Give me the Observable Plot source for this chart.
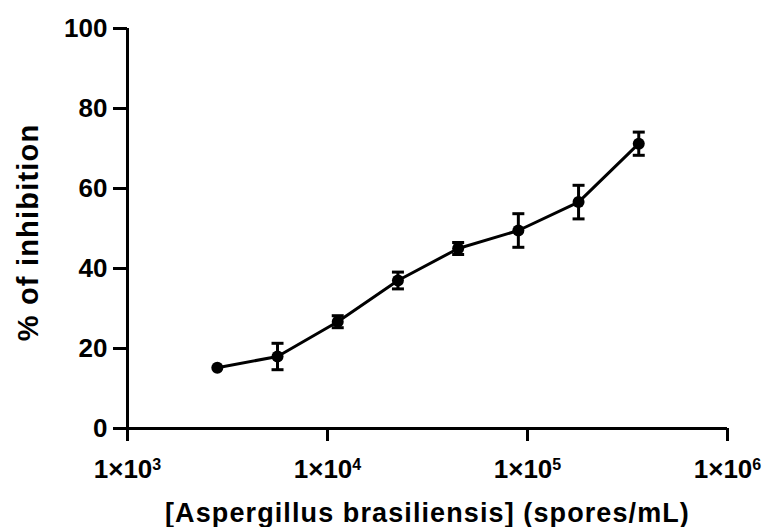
<!DOCTYPE html>
<html>
<head>
<meta charset="utf-8">
<script src="https://cdn.jsdelivr.net/npm/d3@7"></script>
<script src="https://cdn.jsdelivr.net/npm/@observablehq/plot@0.6"></script>
<style>
  html, body { margin: 0; padding: 0; background: #fff; }
  svg { font-family: "Liberation Sans", Arial, sans-serif; }
</style>
</head>
<body>
<div id="chart"></div>
<script>
const concentration = [2812.5, 5625, 11250, 22500, 45000, 90000, 180000, 360000];
const inhibition = [15.2, 18.0, 26.7, 37.0, 45.0, 49.5, 56.6, 71.2];
const errorSD = [0, 3.3, 1.5, 2.1, 1.5, 4.2, 4.2, 2.9];
const xTicks = [1e3, 1e4, 1e5, 1e6];
const yTicks = [0, 20, 40, 60, 80, 100];
const xLabel = "[Aspergillus brasiliensis] (spores/mL)";
const yLabel = "% of inhibition";

const data = concentration.map((c, i) => ({c, y: inhibition[i], e: errorSD[i]}));
const withErr = data.filter(d => d.e > 0);
const fmt = d => "1\u00D710" + Math.round(Math.log10(d));

const capSymbol = {
  draw(context, size) {
    const r = Math.sqrt(size / Math.PI);
    context.moveTo(-r, 0);
    context.lineTo(r, 0);
  }
};

const chart = Plot.plot({
  width: 764,
  height: 527,
  marginLeft: 127,
  marginRight: 37,
  marginTop: 28,
  marginBottom: 99,
  style: {fontFamily: "'Liberation Sans', Arial, sans-serif", fontWeight: "bold", color: "#000", background: "#fff"},
  x: {type: "log", domain: [1e3, 1e6]},
  y: {domain: [0, 100]},
  marks: [
    Plot.axisX({ticks: xTicks, tickFormat: fmt, tickSize: 13, tickPadding: 18, strokeWidth: 3, fontSize: 26, label: null}),
    Plot.axisY({ticks: yTicks, tickSize: 14, tickPadding: 6, strokeWidth: 3, fontSize: 26, label: null}),
    Plot.ruleY([0], {strokeWidth: 3}),
    Plot.ruleX([1e3], {y1: 0, y2: 100, strokeWidth: 3}),
    Plot.ruleX(withErr, {x: "c", y1: d => d.y - d.e, y2: d => d.y + d.e, strokeWidth: 3}),
    Plot.dot(withErr, {x: "c", y: d => d.y + d.e, symbol: capSymbol, r: 6, stroke: "black", strokeWidth: 3}),
    Plot.dot(withErr, {x: "c", y: d => d.y - d.e, symbol: capSymbol, r: 6, stroke: "black", strokeWidth: 3}),
    Plot.line(data, {x: "c", y: "y", stroke: "black", strokeWidth: 3}),
    Plot.dot(data, {x: "c", y: "y", r: 6, fill: "black", stroke: "none"}),
    Plot.text([xLabel], {text: d => d, frameAnchor: "bottom", dy: 93, fontSize: 27, fontWeight: "bold", fill: "black", className: "xlab"}),
    Plot.text([yLabel], {text: d => d, frameAnchor: "left", textAnchor: "middle", dx: -99, dy: 4, rotate: -90, fontSize: 29, fontWeight: "bold", fill: "black", className: "ylab"})
  ]
});

// superscript exponents on x tick labels
chart.querySelectorAll('g[aria-label="x-axis tick label"] text').forEach(t => {
  const s = t.textContent;
  const base = s.slice(0, 4), exp = s.slice(4);
  t.textContent = "";
  const a = document.createElementNS("http://www.w3.org/2000/svg", "tspan");
  a.textContent = base;
  const b = document.createElementNS("http://www.w3.org/2000/svg", "tspan");
  b.textContent = exp;
  b.setAttribute("font-size", "16");
  b.setAttribute("dy", "-8");
  t.appendChild(a); t.appendChild(b);
});
chart.querySelectorAll('.xlab text').forEach(t => t.style.letterSpacing = "1.1px");
chart.querySelectorAll('.ylab text').forEach(t => t.style.letterSpacing = "1.2px");
document.getElementById("chart").appendChild(chart);
</script>
</body>
</html>
